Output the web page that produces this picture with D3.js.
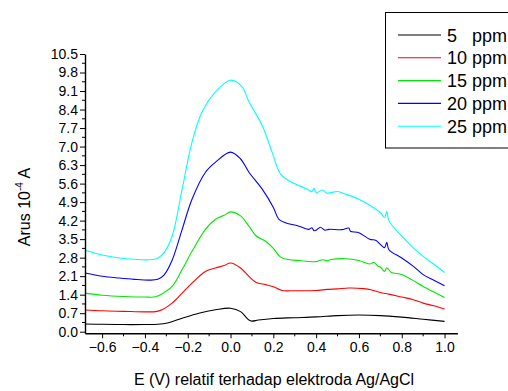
<!DOCTYPE html>
<html>
<head>
<meta charset="utf-8">
<script src="https://cdn.jsdelivr.net/npm/d3@7"></script>
<style>
  body { margin: 0; background: #fff; }
  svg { display: block; font-family: Arial, "Liberation Sans", sans-serif; }
</style>
</head>
<body>
<div class="dataviz"></div>
<script>
// series names and colours
var seriesNames = ["5   ppm", "10 ppm", "15 ppm", "20 ppm", "25 ppm"];
var seriesColors = ["#000000", "#ff0000", "#00e600", "#0000ff", "#00ffff"];

// potential (V) / current (10^-4 A)
var ppm5 = [[-0.68,0.29],[-0.6,0.28],[-0.5,0.27],[-0.4,0.27],[-0.34,0.28],[-0.29,0.34],[-0.226,0.51],[-0.148,0.70],[-0.07,0.83],[0,0.89],[0.047,0.76],[0.086,0.44],[0.1,0.40],[0.13,0.44],[0.2,0.50],[0.3,0.53],[0.4,0.56],[0.5,0.61],[0.6,0.63],[0.7,0.61],[0.8,0.55],[0.9,0.47],[1.0,0.39]];
var ppm10 = [[-0.68,0.82],[-0.6,0.79],[-0.5,0.77],[-0.4,0.75],[-0.35,0.76],[-0.32,0.83],[-0.273,1.08],[-0.226,1.46],[-0.18,1.84],[-0.117,2.28],[-0.07,2.41],[-0.03,2.50],[0,2.60],[0.047,2.41],[0.086,2.09],[0.12,1.86],[0.164,1.78],[0.2,1.70],[0.24,1.56],[0.3,1.55],[0.4,1.56],[0.45,1.60],[0.5,1.62],[0.553,1.65],[0.62,1.63],[0.66,1.58],[0.7,1.48],[0.74,1.42],[0.8,1.31],[0.85,1.22],[0.9,1.08],[0.95,0.98],[1.0,0.86]];
var ppm15 = [[-0.68,1.46],[-0.6,1.38],[-0.5,1.33],[-0.4,1.31],[-0.35,1.32],[-0.32,1.43],[-0.273,1.71],[-0.226,2.35],[-0.18,3.04],[-0.117,3.87],[-0.07,4.25],[-0.03,4.40],[0,4.53],[0.047,4.38],[0.086,3.99],[0.12,3.62],[0.164,3.42],[0.2,3.15],[0.234,2.82],[0.27,2.73],[0.32,2.69],[0.4,2.65],[0.43,2.72],[0.45,2.68],[0.47,2.73],[0.538,2.76],[0.6,2.69],[0.65,2.56],[0.67,2.62],[0.69,2.47],[0.7,2.45],[0.72,2.28],[0.73,2.42],[0.75,2.25],[0.8,2.16],[0.85,1.95],[0.9,1.71],[0.95,1.50],[1.0,1.29]];
var ppm20 = [[-0.68,2.22],[-0.6,2.10],[-0.52,2.03],[-0.45,1.98],[-0.38,1.95],[-0.34,1.98],[-0.31,2.15],[-0.273,2.70],[-0.226,3.87],[-0.18,5.01],[-0.117,6.03],[-0.07,6.41],[0,6.79],[0.047,6.53],[0.086,6.03],[0.148,5.39],[0.2,4.70],[0.226,4.25],[0.257,4.12],[0.32,3.99],[0.366,3.87],[0.38,3.93],[0.39,3.82],[0.4,3.84],[0.42,3.95],[0.44,3.84],[0.46,3.87],[0.52,3.86],[0.553,3.92],[0.56,3.80],[0.6,3.74],[0.65,3.50],[0.68,3.45],[0.7,3.30],[0.72,3.18],[0.73,3.38],[0.74,3.10],[0.8,2.79],[0.85,2.50],[0.9,2.16],[0.95,1.95],[1.0,1.74]];
var ppm25 = [[-0.68,3.08],[-0.6,2.90],[-0.52,2.79],[-0.45,2.74],[-0.38,2.72],[-0.34,2.78],[-0.31,3.00],[-0.273,3.61],[-0.226,5.39],[-0.18,7.17],[-0.133,8.31],[-0.07,9.07],[0,9.51],[0.054,9.26],[0.086,8.69],[0.148,7.80],[0.194,6.79],[0.234,5.96],[0.28,5.68],[0.358,5.39],[0.38,5.30],[0.39,5.42],[0.4,5.26],[0.43,5.36],[0.45,5.24],[0.47,5.26],[0.5,5.30],[0.538,5.20],[0.6,5.01],[0.65,4.78],[0.7,4.50],[0.72,4.32],[0.73,4.55],[0.74,4.20],[0.8,3.61],[0.85,3.20],[0.9,2.85],[0.95,2.55],[1.0,2.24]];
var seriesData = [ppm5, ppm10, ppm15, ppm20, ppm25];

// axis ticks
var xTickLabels = [-0.6, -0.4, -0.2, 0.0, 0.2, 0.4, 0.6, 0.8, 1.0];
var xMinorTicks = [-0.5, -0.3, -0.1, 0.1, 0.3, 0.5, 0.7, 0.9];
var yTickLabels = [0.0, 0.7, 1.4, 2.1, 2.8, 3.5, 4.2, 4.9, 5.6, 6.3, 7.0, 7.7, 8.4, 9.1, 9.8, 10.5];

var width = 508, height = 391;

var svg = d3.select(".dataviz")
  .append("svg")
    .attr("width", width)
    .attr("height", height);

var x = d3.scaleLinear().domain([-0.68, 1.06]).range([85, 457.4]);
var y = d3.scaleLinear().domain([-0.06, 10.5]).range([333.3, 54]);

// curves
var line = d3.line()
  .x(function(d) { return x(d[0]); })
  .y(function(d) { return y(d[1]); })
  .curve(d3.curveCatmullRom.alpha(0.5));

svg.selectAll("path.curve")
  .data(seriesData)
  .enter()
  .append("path")
    .attr("class", "curve")
    .attr("d", line)
    .attr("fill", "none")
    .attr("stroke", function(d, i) { return seriesColors[i]; })
    .attr("stroke-width", 1.1);

// x axis
var xAxis = svg.append("g").attr("transform", "translate(0," + y(-0.06) + ")");
xAxis.call(d3.axisBottom(x).tickValues(xTickLabels).tickSize(5).tickPadding(4)
  .tickFormat(d3.format(".1f")).tickSizeOuter(0));
xAxis.append("g").selectAll("line")
  .data(xMinorTicks).enter().append("line")
    .attr("x1", function(d) { return x(d); }).attr("x2", function(d) { return x(d); })
    .attr("y1", 0).attr("y2", 3)
    .attr("stroke", "#000");

// y axis
var yAxis = svg.append("g").attr("transform", "translate(" + x(-0.68) + ",0)");
yAxis.call(d3.axisLeft(y).tickValues(yTickLabels).tickSize(5).tickPadding(2)
  .tickFormat(d3.format(".1f")).tickSizeOuter(0));
yAxis.append("g").selectAll("line")
  .data(yTickLabels.slice(0, -1).map(function(d) { return d + 0.35; })).enter().append("line")
    .attr("x1", 0).attr("x2", -3)
    .attr("y1", function(d) { return y(d); }).attr("y2", function(d) { return y(d); })
    .attr("stroke", "#000");

svg.selectAll(".domain").attr("stroke", "#000").attr("stroke-width", 1.4);
svg.selectAll(".tick line").attr("stroke", "#000");
svg.selectAll(".tick text").attr("font-size", "14px").attr("fill", "#000")
  .attr("font-family", "Arial, 'Liberation Sans', sans-serif");

// axis titles
svg.append("text")
  .attr("x", 274).attr("y", 385)
  .attr("text-anchor", "middle")
  .attr("font-size", "16px")
  .text("E (V) relatif terhadap elektroda Ag/AgCl");

var yt = svg.append("text")
  .attr("transform", "translate(30,207) rotate(-90)")
  .attr("text-anchor", "middle")
  .attr("font-size", "16px");
yt.append("tspan").text("Arus 10");
yt.append("tspan").attr("font-size", "10px").attr("dy", "-7").text("-4");
yt.append("tspan").attr("dy", "7").text(" A");

// legend
var legend = svg.append("g");
legend.append("rect")
  .attr("x", 385.5).attr("y", 12.5)
  .attr("width", 140).attr("height", 135.5)
  .attr("fill", "#fff").attr("stroke", "#000");

var row = legend.selectAll("g.row")
  .data(seriesNames)
  .enter().append("g")
    .attr("transform", function(d, i) { return "translate(0," + (35 + i * 22.8) + ")"; });
row.append("line")
  .attr("x1", 398).attr("x2", 441)
  .attr("stroke", function(d, i) { return seriesColors[i]; })
  .attr("stroke-width", 1.1);
row.append("text")
  .attr("x", 447).attr("y", 6.5)
  .attr("font-size", "18px")
  .attr("xml:space", "preserve")
  .style("white-space", "pre")
  .text(function(d) { return d; });
</script>
</body>
</html>
